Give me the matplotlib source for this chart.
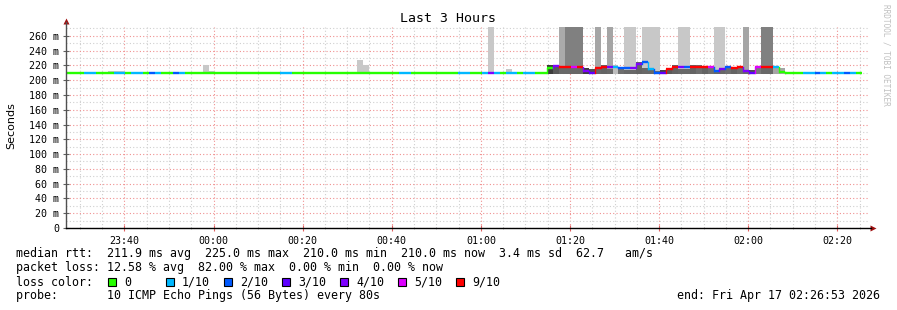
import datetime as dt
import matplotlib
matplotlib.use('Agg')
import matplotlib.pyplot as plt
import matplotlib.dates as mdates
from matplotlib.patches import Rectangle
from matplotlib.ticker import MultipleLocator, FuncFormatter

# ---------------------------------------------------------------- data
start = dt.datetime(2026, 4, 16, 23, 26, 53)
step_s = 80            # probe step, seconds
span_h = 3

# median rtt per step (ms)
median = [
    210, 210, 210, 210, 210, 210, 210, 210, 210, 210, 210, 210, 210, 210, 210, 210, 210, 210, 210, 210,
    210, 210, 210, 210, 210, 210, 210, 210, 210, 210, 210, 210, 210, 210, 210, 210, 210, 210, 210, 210,
    210, 210, 210, 210, 210, 210, 210, 210, 210, 210, 210, 210, 210, 210, 210, 210, 210, 210, 210, 210,
    210, 210, 210, 210, 210, 210, 210, 210, 210, 210, 210, 210, 210, 210, 210, 210, 210, 210, 210, 210,
    210, 216, 219, 218, 218, 218, 218, 213, 210, 217, 218, 218, 218, 216, 216, 216, 222, 225, 215, 210,
    210, 215, 218, 218, 218, 218, 218, 218, 218, 212, 215, 218, 216, 218, 212, 210, 218, 218, 218, 218,
    211, 210, 210, 210, 210, 210, 210, 210, 210, 210, 210, 210, 210, 210,
]
# lost pings out of 10 per step
loss = [
    0, 0, 0, 1, 1, 0, 0, 0, 1, 1, 0, 1, 1, 0, 2, 1, 0, 0, 2, 1,
    0, 0, 0, 0, 0, 0, 0, 0, 0, 0, 0, 0, 0, 0, 0, 0, 1, 1, 0, 0,
    0, 0, 0, 0, 0, 0, 0, 0, 0, 0, 0, 0, 0, 0, 0, 0, 1, 1, 0, 0,
    0, 0, 0, 0, 0, 0, 1, 1, 0, 0, 1, 4, 1, 0, 1, 1, 0, 1, 1, 0,
    0, 0, 4, 9, 9, 5, 9, 4, 3, 9, 9, 4, 1, 2, 2, 4, 4, 2, 1, 2,
    3, 9, 9, 4, 2, 9, 9, 9, 5, 2, 4, 2, 9, 9, 4, 3, 5, 9, 9, 1,
    0, 0, 0, 0, 1, 1, 2, 1, 0, 1, 1, 2, 1, 0,
]
# smoke (ping spread) per step, ms
smoke_lo = [
    210, 210, 210, 210, 210, 210, 210, 210, 210, 210, 210, 210, 210, 210, 210, 210, 210, 210, 210, 210,
    210, 210, 210, 210, 210, 210, 210, 210, 210, 210, 210, 210, 210, 210, 210, 210, 210, 210, 210, 210,
    210, 210, 210, 210, 210, 210, 210, 210, 210, 210, 210, 210, 210, 210, 210, 210, 210, 210, 210, 210,
    210, 210, 210, 210, 210, 210, 210, 210, 210, 210, 210, 210, 210, 210, 210, 210, 210, 210, 210, 210,
    210, 208, 208, 208, 208, 208, 208, 208, 208, 208, 208, 208, 208, 208, 208, 208, 208, 208, 208, 208,
    208, 208, 208, 208, 208, 208, 208, 208, 208, 208, 208, 208, 208, 208, 208, 208, 208, 208, 208, 208,
    209, 210, 210, 210, 210, 210, 210, 210, 210, 210, 210, 210, 210, 210,
]
smoke_hi = [
    210, 210, 210, 210, 210, 210, 210, 213, 213, 213, 210, 210, 210, 210, 210, 210, 210, 210, 210, 210,
    210, 210, 210, 221, 213, 210, 210, 210, 210, 210, 210, 210, 210, 210, 210, 210, 210, 210, 210, 210,
    210, 210, 210, 210, 210, 210, 210, 210, 210, 227, 221, 210, 210, 210, 210, 210, 210, 210, 210, 210,
    210, 210, 210, 210, 210, 210, 210, 210, 210, 210, 210, 272, 210, 210, 215, 210, 210, 210, 210, 210,
    210, 220, 221, 272, 272, 272, 272, 216, 215, 272, 220, 272, 220, 218, 272, 272, 224, 272, 272, 272,
    214, 217, 220, 272, 272, 220, 220, 218, 219, 272, 272, 219, 218, 219, 272, 214, 219, 272, 272, 219,
    217, 210, 210, 210, 210, 210, 210, 210, 210, 210, 210, 210, 210, 210,
]
# grey level of the smoke per step (0 black .. 255 white)
smoke_grey = [
    200, 200, 200, 200, 200, 200, 200, 200, 200, 200, 200, 200, 200, 200, 200, 200, 200, 200, 200, 200,
    200, 200, 200, 200, 200, 200, 200, 200, 200, 200, 200, 200, 200, 200, 200, 200, 200, 200, 200, 200,
    200, 200, 200, 200, 200, 200, 200, 200, 200, 200, 200, 200, 200, 200, 200, 200, 200, 200, 200, 200,
    200, 200, 200, 200, 200, 200, 200, 200, 200, 200, 200, 200, 200, 200, 200, 200, 200, 200, 200, 200,
    200, 60, 90, 170, 128, 128, 128, 60, 80, 165, 100, 165, 190, 110, 200, 200, 100, 200, 200, 200,
    70, 90, 100, 200, 200, 100, 110, 100, 110, 200, 200, 110, 100, 110, 165, 80, 120, 128, 128, 165,
    165, 200, 200, 200, 200, 200, 200, 200, 200, 200, 200, 200, 200, 200,
]
# darker core of the smoke under the tall spikes (step 80 .. 120)
core_first = 80
core_hi = [
    0, 0, 0, 216, 216, 216, 216, 0, 0, 215, 0, 215, 0, 0, 214, 214, 0, 217, 215, 213,
    0, 0, 0, 215, 215, 0, 0, 0, 0, 214, 214, 0, 0, 0, 213, 0, 0, 216, 216, 0,
    0,
]

loss_keys = [0, 1, 2, 3, 4, 5, 9]
loss_labels = ['0', '1/10', '2/10', '3/10', '4/10', '5/10', '9/10']
loss_colors = ['#26ff00', '#00b8ff', '#0059ff', '#5e00ff', '#7e00ff', '#dd00ff', '#ff0000']

stat_lines = [
    'median rtt:  211.9 ms avg  225.0 ms max  210.0 ms min  210.0 ms now  3.4 ms sd  62.7   am/s',
    'packet loss: 12.58 % avg  82.00 % max  0.00 % min  0.00 % now',
]
probe_line = 'probe:       10 ICMP Echo Pings (56 Bytes) every 80s'
end_line = 'end: Fri Apr 17 02:26:53 2026'

# ---------------------------------------------------------------- plot
plt.rcParams['font.family'] = ['DejaVu Sans Mono']
W, H = 897, 310
fig = plt.figure(figsize=(W / 100, H / 100), dpi=100)
fig.patch.set_facecolor('white')
ax = fig.add_axes([66 / W, 1 - 228 / H, 802 / W, 201 / H])

t_num = [mdates.date2num(start + dt.timedelta(seconds=step_s * i)) for i in range(len(median))]
w = step_s / 86400.
col_of = dict(zip(loss_keys, loss_colors))

# smoke
for i, t in enumerate(t_num):
    if smoke_hi[i] > smoke_lo[i]:
        g = smoke_grey[i] / 255.
        ax.add_patch(Rectangle((t, smoke_lo[i]), w, smoke_hi[i] - smoke_lo[i],
                               facecolor=(g, g, g), edgecolor='none', zorder=1))
for k, top in enumerate(core_hi):
    i = core_first + k
    if top > 0:
        ax.add_patch(Rectangle((t_num[i], smoke_lo[i]), w, top - smoke_lo[i],
                               facecolor='#686868', edgecolor='none', zorder=1.1))

# median line, coloured by loss
for i, t in enumerate(t_num):
    c = col_of[loss[i]]
    ax.plot([t, t + w], [median[i], median[i]], color=c, lw=1.7,
            solid_capstyle='butt', zorder=3)
    if i > 0 and median[i] != median[i - 1]:
        ax.plot([t, t], [median[i - 1], median[i]], color=c, lw=1.0, zorder=3)

ax.set_xlim(mdates.date2num(start), mdates.date2num(start + dt.timedelta(hours=span_h)))
ax.set_ylim(0, 272)

ax.xaxis.set_major_locator(mdates.MinuteLocator(byminute=[0, 20, 40]))
ax.xaxis.set_minor_locator(mdates.MinuteLocator(byminute=range(0, 60, 5)))
ax.xaxis.set_major_formatter(mdates.DateFormatter('%H:%M'))
ax.yaxis.set_major_locator(MultipleLocator(20))
ax.yaxis.set_minor_locator(MultipleLocator(10))
ax.yaxis.set_major_formatter(FuncFormatter(lambda v, p: '0' if v == 0 else f'{v:.0f} m'))

ax.set_axisbelow(True)
ax.grid(which='minor', color='#cfcfcf', ls=(0, (1, 2)), lw=0.8)
ax.grid(which='major', color='#f09090', ls=(0, (1, 2)), lw=0.8)

ax.tick_params(axis='both', which='both', labelsize=7.2)
ax.tick_params(axis='x', which='major', direction='inout', length=4, color='#e06060', pad=4)
ax.tick_params(axis='x', which='minor', direction='inout', length=2, color='#b0b0b0')
ax.tick_params(axis='y', which='major', direction='inout', length=4, color='#606060', pad=3)
ax.tick_params(axis='y', which='minor', length=0)

for s in ax.spines.values():
    s.set_visible(False)
ax.plot([0, 0], [0, 1.025], color='#505050', lw=1.0, transform=ax.transAxes, clip_on=False, zorder=4)
ax.plot([0, 1.004], [0, 0], color='black', lw=1.0, transform=ax.transAxes, clip_on=False, zorder=4)
ax.plot([0], [1.03], marker='^', ms=4, color='#a01010', mec='none', transform=ax.transAxes, clip_on=False)
ax.plot([1.006], [0], marker='>', ms=4, color='#a01010', mec='none', transform=ax.transAxes, clip_on=False)

# texts around the graph
def fx(x): return x / W
def fy(y): return 1 - y / H

fig.text(fx(448), fy(19), 'Last 3 Hours', ha='center', va='center', size=9.5)
fig.text(fx(11), fy(126), 'Seconds', rotation=90, ha='center', va='center',
         size=8, family='DejaVu Sans')
fig.text(fx(886), fy(4), 'RRDTOOL / TOBI OETIKER', rotation=270, ha='center', va='top',
         size=5.6, color='#c0c0c0')

for k, line in enumerate(stat_lines):
    fig.text(fx(16), fy(254 + 14 * k), line, ha='left', va='center', size=8.4)
fig.text(fx(16), fy(282), 'loss color:', ha='left', va='center', size=8.4)
for k, (lab, c) in enumerate(zip(loss_labels, loss_colors)):
    x0 = 108 + 58 * k
    fig.add_artist(Rectangle((fx(x0), fy(286)), 8 / W, 8 / H, facecolor=c,
                             edgecolor='black', lw=0.8, transform=fig.transFigure))
    fig.text(fx(x0 + 16), fy(282), lab, ha='left', va='center', size=8.4)
fig.text(fx(16), fy(296), probe_line, ha='left', va='center', size=8.4)
fig.text(fx(880), fy(296), end_line, ha='right', va='center', size=8.4)

fig.savefig('out.png', dpi=100, facecolor='white')
